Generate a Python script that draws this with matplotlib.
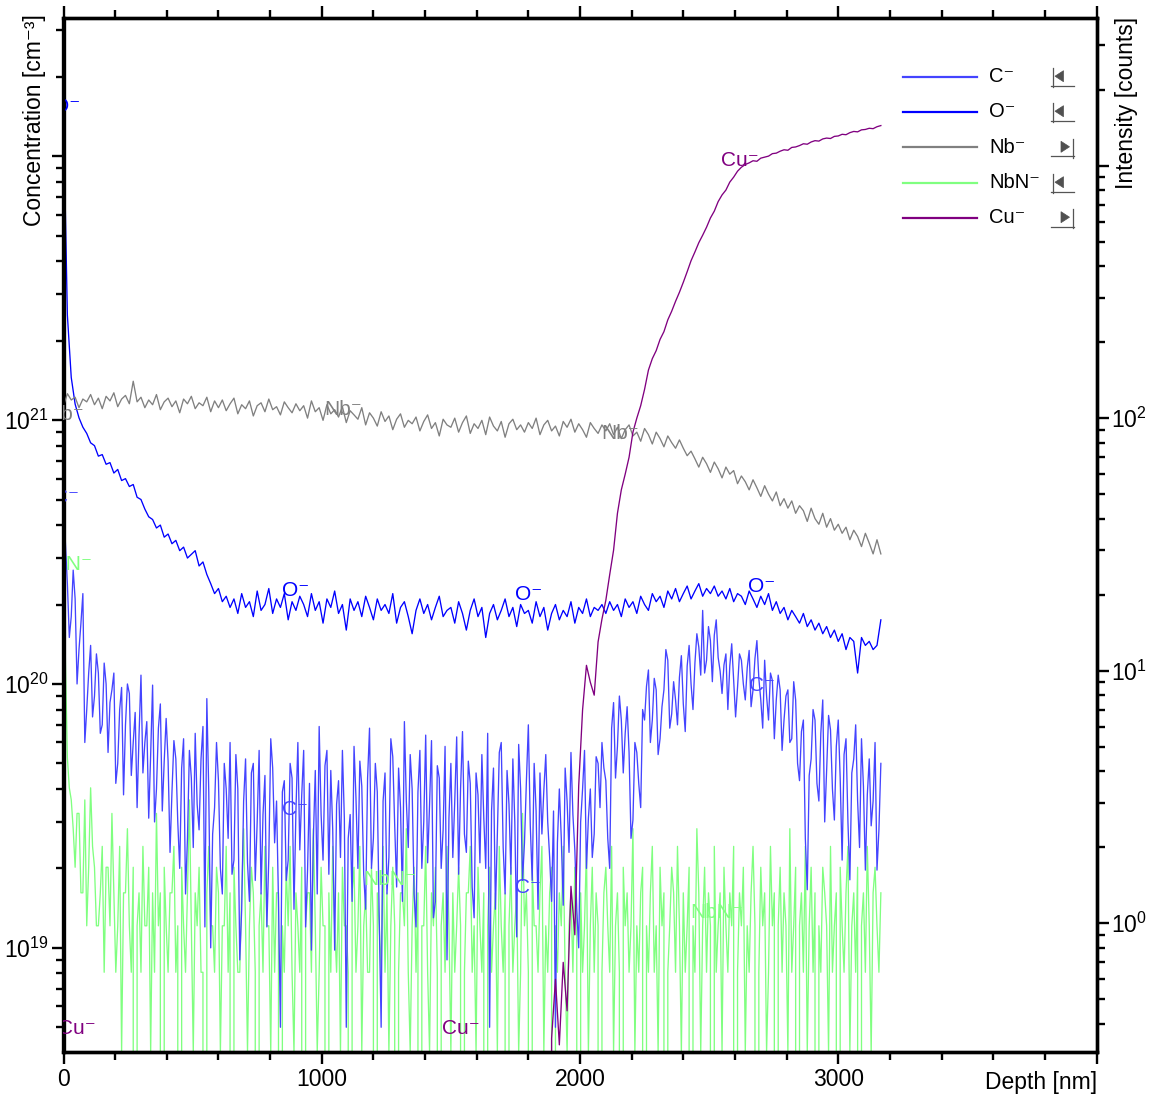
import numpy as np
import matplotlib
matplotlib.use("Agg")
import matplotlib.pyplot as plt
from matplotlib.ticker import LogLocator, NullFormatter, FuncFormatter, MultipleLocator, FixedLocator, FixedFormatter
from matplotlib.lines import Line2D
from matplotlib.patches import Polygon

plt.rcParams['font.family'] = ['Liberation Sans', 'DejaVu Sans']
plt.rcParams['mathtext.fontset'] = 'custom'
plt.rcParams['mathtext.rm'] = 'Liberation Sans'
plt.rcParams['mathtext.it'] = 'Liberation Sans:italic'
plt.rcParams['mathtext.bf'] = 'Liberation Sans:bold'
plt.rcParams['mathtext.default'] = 'regular'

# ---------------- data ----------------
step_coarse = 15.0   # nm, O- and Nb-, Cu-
step_fine = 7.5      # nm, C- and NbN-

# O- concentration, units of 1e20 cm^-3 (15 nm steps)
o_e20 = [143, 25, 14.5, 11.5, 10.2, 9.4, 8.9, 8.2, 8.0, 7.3, 7.4, 6.8, 6.9, 6.3, 6.5, 5.9, 6.0, 5.6, 5.7, 5.1,
         5.0, 4.6, 4.3, 4.2, 3.9, 4.0, 3.6, 3.7, 3.4, 3.5, 3.2, 3.3, 3.0, 3.1, 3.2, 2.8, 2.9, 2.6, 2.4, 2.2,
         2.3, 2.05, 2.15, 1.95,
         2.1, 1.85, 2.2, 1.95, 2.05, 1.8, 2.25, 1.9, 2.0, 2.3, 1.85, 2.1, 1.95, 2.2, 1.75, 2.05, 1.9, 2.15, 2.0, 1.8,
         2.2, 1.9, 2.05, 1.7, 2.1, 1.95, 2.25, 1.85, 2.0, 1.6, 2.1, 1.9, 2.05, 1.8, 2.15, 1.95, 1.75, 2.1, 1.9, 2.0,
         1.85, 2.2, 1.7, 1.95, 2.05, 1.8, 1.55, 1.9, 2.1, 1.85, 2.0, 1.75, 1.95, 2.15, 1.8, 1.9,
         1.95, 1.7, 2.05, 1.85, 1.6, 1.9, 2.1, 1.8, 1.95, 1.5, 1.85, 2.0, 1.75, 1.9, 2.1, 1.8, 1.95, 1.65, 2.0, 1.85,
         1.9, 1.7, 2.05, 1.8, 1.95, 1.6, 1.85, 2.0, 1.75, 1.9, 1.8, 2.05, 1.7, 1.95, 1.85, 2.1, 1.8, 1.95, 1.9, 2.0,
         1.85, 2.05, 1.9, 2.0, 1.8, 2.1, 1.95, 2.05, 1.85, 2.15, 2.0, 1.9, 2.2, 2.05, 2.15, 1.95, 2.25, 2.1, 2.3, 2.05,
         2.2, 2.35, 2.1, 2.25, 2.4, 2.15, 2.3,
         2.2, 2.35, 2.15, 2.25, 2.1, 2.3, 2.05, 2.2, 2.15, 2.0, 2.25, 2.1, 1.95, 2.15,
         2.0, 2.2, 1.9, 2.05, 1.85, 1.95, 1.75, 1.9, 1.8, 1.7, 1.85, 1.65, 1.75, 1.6, 1.7,
         1.55, 1.65, 1.5, 1.6, 1.45, 1.55, 1.35, 1.5, 1.45, 1.1, 1.5, 1.4, 1.45, 1.35, 1.4,
         1.75]

# C- concentration, units of 1e19 cm^-3 (7.5 nm steps)
c_e19 = [51, 34, 24, 15, 18, 27, 21, 10, 13.5, 17, 22, 6, 8, 11, 14, 7.5, 9, 13, 11, 6.5,
         7, 12, 10, 5.5, 8.5, 9.5, 11, 4.2, 5, 8, 9.7, 3.8, 7, 10, 9.2, 4.5, 6, 7.8, 3.4, 6.4,
         10.8, 4.6, 6, 7.2, 3.1, 5.4, 9.9, 3.0, 4, 6.8, 8.4, 3.3, 5.1, 7.4, 5.1, 2.3, 3.9, 6.1, 5.2, 3.0,
         2.0, 4.8, 6.2, 1.6, 2.6, 5.6, 4.4, 2.4, 6.5, 3.5, 2.8, 5.2, 6.9, 1.2, 8.8, 3.9, 1.0, 2.7, 3.4, 6.0,
         4.3, 2.0, 1.6, 5.0, 4.0, 2.6, 6.0, 1.9, 2.15, 5.4, 4.0, 0.9, 1.4, 3.6, 5.2, 2.1, 1.5, 4.6, 5.0, 1.8,
         3.0, 5.6, 1.6, 3.2, 4.5, 1.2, 2.2, 6.2, 4.8, 2.5, 3.6, 1.5, 0.5, 3.9, 4.3, 1.8, 2.15, 5.0, 4.4, 1.4,
         3.3, 6.0, 2.35, 3.8, 5.6, 1.2, 1.97, 4.2, 0.98, 2.6, 4.7, 1.6, 6.9, 3.2, 2.15, 4.9, 5.6, 1.9, 4.7, 2.8,
         0.98, 3.5, 4.3, 2.2, 5.6, 3.1, 0.5, 2.6, 3.2, 1.5, 5.8, 3.7, 2.0, 5.1, 4.1, 1.9, 1.4, 4.4, 6.8, 2.0,
         2.6, 5.0, 3.9, 1.3, 0.5, 3.6, 4.6, 1.6, 2.2, 6.2, 5.3, 2.9, 1.7, 4.8, 3.4, 1.5, 7.2, 3.6, 2.4, 5.4,
         4.0, 1.6, 1.2, 3.9, 5.6, 2.0, 3.0, 6.4, 2.1, 3.5, 6.1, 1.3, 1.5, 4.9, 4.4, 2.0, 2.8, 5.8, 0.9, 3.1,
         5.0, 2.2, 3.6, 6.3, 1.9, 4.0, 6.6, 2.7, 2.3, 5.1, 4.2, 1.7, 1.3, 4.6, 3.8, 2.1, 5.4, 3.1, 2.0, 6.5,
         0.5, 3.3, 4.8, 1.4, 2.7, 5.5, 6.0, 2.4, 1.6, 4.7, 3.5, 1.9, 5.2, 3.0, 1.1, 5.9, 4.0, 1.8, 2.5, 4.3,
         7.0, 2.9, 1.8, 5.0, 3.3, 1.4, 4.6, 2.7, 3.96, 5.4, 3.0, 2.2, 1.5, 3.3, 0.5, 2.5, 4.0, 2.6, 1.45, 4.8,
         3.6, 2.3, 5.5, 3.2, 2.35, 1.4, 1.0, 3.0, 4.0, 5.6, 2.0, 3.1, 4.0, 2.2, 2.7, 5.3, 5.0, 3.4, 6.0, 4.8,
         4.3, 2.6, 2.0, 6.8, 8.5, 4.4, 5.8, 9.0, 7.3, 4.6, 6.5, 8.2, 5.5, 2.6, 3.05, 6.0, 5.5, 4.2, 3.4, 8.0,
         7.3, 9.8, 11.3, 6.0, 7.3, 10.5, 9.5, 5.4, 6.2, 8.2, 9.5, 13.5, 12.3, 6.8, 7.7, 10.2, 8.7, 7.0, 10.6, 12.8,
         8.4, 6.6, 11.7, 14.0, 10.0, 8.0, 12.0, 15.5, 13.8, 10.8, 19.0, 11.0, 12.3, 16.5, 14.6, 10.2, 15.3, 17.5, 12.6, 11.2,
         9.2, 11.8, 13.0, 8.0, 11.7, 14.2, 10.3, 7.5, 9.7, 13.0, 12.3, 10.0, 8.7, 11.5, 13.4, 8.2, 9.5, 12.5, 14.6, 10.5,
         8.7, 6.8, 12.3, 9.0, 7.3, 11.0, 10.3, 6.2, 8.7, 10.8, 9.5, 5.6, 7.3, 9.0, 9.5, 6.0, 6.2, 10.2, 8.7, 5.0,
         4.3, 6.6, 7.3, 2.6, 1.66, 4.5, 5.2, 8.0, 7.3, 4.2, 3.6, 6.5, 8.7, 3.0, 4.7, 7.6, 6.7, 4.0, 3.05, 5.8,
         7.3, 4.4, 2.15, 5.4, 6.2, 3.0, 1.81, 4.6, 5.2, 7.0, 3.6, 2.4, 6.2, 4.1, 1.97, 3.8, 5.2, 2.9, 3.6, 6.0,
         1.97, 2.8, 5.0]

# NbN- signal in counts (7.5 nm steps); concentration = counts * rsf
nbn_counts = [73, 30, 13, 10, 9, 7, 5, 8, 8, 4, 4, 9, 3, 5, 10, 6, 5, 3, 3, 4,
              6, 2, 5, 5, 3, 8, 4, 2, 3, 6, 1, 4, 4, 7, 3, 2, 5, 0, 3, 4,
              2, 6, 3, 3, 5, 1, 4, 2, 8, 3, 4, 0, 5, 3, 2, 4, 4, 6, 2, 3,
              0, 5, 3, 2, 4, 9, 3, 1, 4, 3, 5, 2, 2, 0, 4, 6, 3, 3, 2, 5,
              4, 1, 3, 3, 6, 2, 4, 0, 5, 3, 2, 2, 4, 7, 3, 1, 3, 5, 4, 2,
              0, 3, 4, 2, 6, 3, 3, 1, 5, 2, 4, 4, 0, 3, 2, 5, 3, 6, 2, 1,
              4, 3, 2, 5, 0, 3, 4, 4, 2, 7, 3, 1, 2, 5, 3, 3, 0, 4, 2, 6,
              3, 2, 4, 1, 5, 3, 3, 2, 0, 4, 5, 2, 3, 6, 1, 3, 4, 2, 2, 5,
              3, 0, 4, 3, 2, 6, 2, 4, 1, 3, 5, 3, 0, 2, 4, 4, 3, 7, 2, 1,
              3, 5, 2, 4, 0, 3, 3, 6, 2, 1, 4, 3, 5, 2, 0, 3, 4, 2, 6, 3,
              1, 4, 2, 3, 5, 3, 0, 2, 4, 4, 6, 2, 3, 1, 5, 3, 2, 4, 0, 3,
              5, 2, 3, 4, 1, 6, 3, 2, 4, 0, 3, 5, 2, 3, 4, 1, 2, 8, 3, 4,
              2, 0, 5, 3, 3, 2, 4, 6, 1, 3, 2, 4, 5, 0, 3, 2, 4, 3, 6, 2,
              1, 3, 4, 2, 5, 3, 0, 4, 2, 3, 6, 1, 3, 5, 2, 4, 3, 0, 2, 4,
              5, 3, 2, 6, 1, 3, 4, 2, 0, 5, 3, 4, 2, 3, 7, 1, 3, 2, 4, 5,
              0, 3, 2, 4, 6, 2, 3, 1, 5, 3, 4, 0, 2, 3, 5, 4, 2, 6, 3, 1,
              4, 2, 3, 5, 0, 3, 2, 7, 4, 1, 3, 5, 2, 4, 3, 0, 6, 2, 3, 4,
              1, 5, 3, 2, 4, 3, 6, 0, 2, 4, 3, 5, 1, 3, 2, 4, 6, 3, 0, 2,
              5, 3, 4, 1, 2, 6, 3, 4, 0, 3, 5, 2, 4, 3, 1, 7, 2, 3, 5, 0,
              3, 4, 2, 6, 1, 3, 5, 2, 4, 0, 3, 2, 5, 4, 3, 1, 6, 2, 3, 4,
              0, 5, 3, 2, 4, 6, 1, 3, 4, 2, 5, 0, 3, 4, 2, 6, 3, 1, 4, 5,
              3, 2, 4]
nbn_rsf = 4.04e18

# Nb- intensity [counts] (15 nm steps)
nb_counts = [112, 125, 118, 121, 110, 119, 116, 124, 113, 120, 109, 122, 117, 126, 111, 119, 123, 114, 140, 116,
             121, 110, 118, 113, 124, 108, 116, 120, 111, 117, 105, 119, 114, 122, 109, 115, 112, 121, 106, 117,
             110, 118, 107, 114, 120, 104, 113, 109, 117, 102, 112, 115, 106, 119, 108, 111, 103, 116, 110, 105,
             114, 107, 112, 100, 117, 106, 110, 98, 113, 104, 108, 101, 111, 96, 107, 103, 99, 110, 94, 105,
             100, 93, 106, 97, 102, 90, 99, 104, 92, 98, 95, 101, 89, 97, 103, 91, 96, 85, 99, 94,
             92, 100, 88, 96, 102, 87, 95, 91, 98, 86, 101, 93, 89, 97, 84, 95, 99, 90, 94, 88,
             96, 91, 100, 86, 94, 98, 89, 93, 85, 97, 92, 99, 88, 95, 90, 84, 96, 91, 87, 94,
             89, 95, 86, 92, 83, 90, 94, 85, 88, 81, 91, 86, 79, 88, 83, 77, 85, 80, 76, 82,
             76, 71, 74, 69, 64, 70, 66, 61, 67, 63, 58, 64, 60, 62, 55, 59, 56, 52, 57, 53,
             49, 54, 50, 47, 51, 45, 48, 44, 47, 42, 45, 43, 39, 44, 40, 38, 42, 37, 40, 36,
             38, 35, 37, 33, 36, 34, 31, 35, 32, 29, 33, 29]

# Cu- intensity [counts] (15 nm steps), starting at depth cu_start_nm (zero before)
cu_start_nm = 1860.0
cu_counts = [0, 0, 0.35, 0.6, 0.33, 0.7, 0.45, 1.4, 0.9, 3.5, 7.0, 10.5, 9.0, 8.0, 13, 16, 19, 24, 30, 42,
             52, 60, 70, 88, 100, 112, 130, 155, 172, 185, 205, 220, 245, 265, 290, 315, 345, 380, 420, 455,
             495, 530, 570, 620, 660, 720, 765, 800, 860, 900, 950, 985, 1010, 1025, 1045, 1040, 1070, 1080, 1090, 1115,
             1120, 1140, 1155, 1150, 1180, 1185, 1200, 1220, 1215, 1240, 1255, 1250, 1275, 1285, 1280, 1305, 1310, 1330, 1325, 1350,
             1365, 1360, 1385, 1390, 1405, 1400, 1425, 1440]

# curve labels: (depth_nm, value)
o_labels = [(12, 1.54e22), (897, 2.27e20), (1800, 2.18e20), (2705, 2.35e20)]
c_labels = [(10, 5.1e20), (897, 3.33e19), (1800, 1.69e19), (2705, 9.9e19)]
nbn_labels = [(10, 2.84e20), (1265, 1.81e19), (2530, 1.36e19)]
nb_labels = [(5, 103), (1083, 108), (2156, 87)]
cu_labels = [(52, 0.384), (1537, 0.384), (2620, 1052)]

col_c = '#4444ff'
col_o = '#0000ff'
col_nb = '#808080'
col_nbn = '#80ff80'
col_cu = '#800080'

# ---------------- figure ----------------
W, H = 1153, 1094
fig = plt.figure(figsize=(W / 100, H / 100), dpi=100)
L, R, T, B = 63.5, 1096.5, 18.0, 1051.7
ax = fig.add_axes([L / W, 1 - B / H, (R - L) / W, (B - T) / H])
ax2 = ax.twinx()

def dgrid(n, step, start=0.0):
    return start + np.arange(n) * step

ax.set_yscale('log', nonpositive='clip')
ax2.set_yscale('log', nonpositive='clip')

lw = 0.95
ax.plot(dgrid(len(nbn_counts), step_fine), np.array(nbn_counts) * nbn_rsf, color=col_nbn, lw=lw)
ax.plot(dgrid(len(c_e19), step_fine), np.array(c_e19) * 1e19, color=col_c, lw=lw)
ax.plot(dgrid(len(o_e20), step_coarse), np.array(o_e20) * 1e20, color=col_o, lw=lw)
ax2.plot(dgrid(len(nb_counts), step_coarse), nb_counts, color=col_nb, lw=lw)
ax2.plot(dgrid(len(cu_counts), step_coarse, cu_start_nm), cu_counts, color=col_cu, lw=lw)

ax.set_xlim(0, 4000)
ax.set_ylim(4.04e18, 3.34e22)
ax2.set_ylim(0.31, 3840)

fs_lab = 15
for (d, v) in o_labels:
    ax.text(d, v, 'O\u207b', color=col_o, fontsize=fs_lab, ha='center', va='center', clip_on=True)
for (d, v) in c_labels:
    ax.text(d, v, 'C\u207b', color=col_c, fontsize=fs_lab, ha='center', va='center', clip_on=True)
for (d, v) in nbn_labels:
    ax.text(d, v, 'NbN\u207b', color=col_nbn, fontsize=fs_lab, ha='center', va='center', clip_on=True)
for (d, v) in nb_labels:
    ax2.text(d, v, 'Nb\u207b', color=col_nb, fontsize=fs_lab, ha='center', va='center', clip_on=True)
for (d, v) in cu_labels:
    ax2.text(d, v, 'Cu\u207b', color=col_cu, fontsize=fs_lab, ha='center', va='center', clip_on=True)

# ticks
fs_tick = 16.5
maj_len, min_len, tw = 8.6, 6.0, 1.7
ax.xaxis.set_major_locator(FixedLocator([0, 1000, 2000, 3000, 4000]))
ax.xaxis.set_major_formatter(FixedFormatter(['0', '1000', '2000', '3000', '']))
ax.xaxis.set_minor_locator(MultipleLocator(200))
ax.tick_params(axis='x', which='both', direction='out', top=True, bottom=True, width=tw,
               labelsize=fs_tick, pad=3)
ax.tick_params(axis='x', which='major', length=maj_len)
ax.tick_params(axis='x', which='minor', length=min_len)

def logfmt(allowed):
    def f(v, pos):
        e = int(round(np.log10(v)))
        if e in allowed and abs(np.log10(v) - e) < 1e-6:
            return '$10^{%d}$' % e
        return ''
    return FuncFormatter(f)

for a, allowed in [(ax, (19, 20, 21)), (ax2, (0, 1, 2))]:
    a.yaxis.set_major_locator(LogLocator(base=10, numticks=20))
    a.yaxis.set_minor_locator(LogLocator(base=10, subs=np.arange(2, 10), numticks=20))
    a.yaxis.set_major_formatter(logfmt(allowed))
    a.yaxis.set_minor_formatter(NullFormatter())
    a.tick_params(axis='y', which='both', direction='out', width=tw, labelsize=fs_tick, pad=2)
    a.tick_params(axis='y', which='major', length=maj_len)
    a.tick_params(axis='y', which='minor', length=min_len)
ax.tick_params(axis='y', which='both', right=False, left=True)
ax2.tick_params(axis='y', which='both', left=False, right=True)

for a in (ax, ax2):
    for s in a.spines.values():
        s.set_linewidth(2.4)

# axis labels
fig.text(35 / W, 1 - 14 / H, 'Concentration [cm\u207b\u00b3]', rotation=90, ha='center', va='top', fontsize=16.5)
fig.text(1127 / W, 1 - 17 / H, 'Intensity [counts]', rotation=90, ha='center', va='top', fontsize=16.5)
fig.text(1097 / W, 1 - 1088.5 / H, 'Depth [nm]', ha='right', va='baseline', fontsize=fs_tick)

# legend (manual)
def fx(x):
    return x / W

def fy(y):
    return 1 - y / H

legend_rows = [('C\u207b', col_c, 'left'), ('O\u207b', col_o, 'left'), ('Nb\u207b', col_nb, 'right'),
               ('NbN\u207b', col_nbn, 'left'), ('Cu\u207b', col_cu, 'right')]
row_y = [76.7, 111.7, 147.3, 182.7, 217.7]
for (lab, col, side), y in zip(legend_rows, row_y):
    fig.add_artist(Line2D([fx(903), fx(977)], [fy(y), fy(y)], color=col, lw=1.6, transform=fig.transFigure))
    fig.text(fx(989), fy(y), lab, color='black', fontsize=14.5, ha='left', va='center')
    icol = '#555555'
    fig.add_artist(Line2D([fx(1050.5), fx(1073.5)], [fy(y + 9), fy(y + 9)], color=icol, lw=0.9,
                          transform=fig.transFigure))
    if side == 'left':
        fig.add_artist(Line2D([fx(1052.5), fx(1052.5)], [fy(y - 8.5), fy(y + 10.5)], color=icol, lw=0.9,
                              transform=fig.transFigure))
        tri = [(fx(1055), fy(y - 0.5)), (fx(1063.5), fy(y - 6)), (fx(1063.5), fy(y + 5))]
    else:
        fig.add_artist(Line2D([fx(1072.5), fx(1072.5)], [fy(y - 8.5), fy(y + 10.5)], color=icol, lw=0.9,
                              transform=fig.transFigure))
        tri = [(fx(1069.5), fy(y - 0.5)), (fx(1061), fy(y - 6)), (fx(1061), fy(y + 5))]
    fig.add_artist(Polygon(tri, closed=True, facecolor='#505050', edgecolor='#505050', lw=0.5,
                           transform=fig.transFigure))

fig.savefig('out.png', dpi=100)
